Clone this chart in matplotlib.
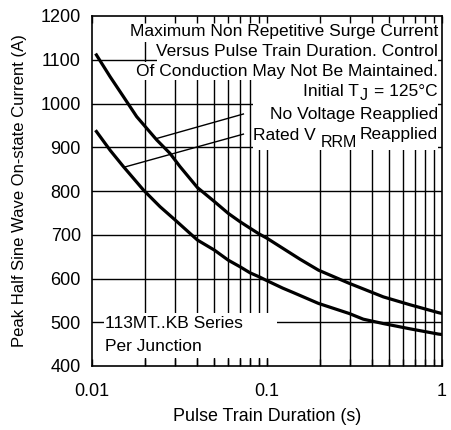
import matplotlib
matplotlib.use("Agg")
import matplotlib.pyplot as plt
from matplotlib.patches import Rectangle

plt.rcParams['font.family'] = ['Liberation Sans', 'DejaVu Sans']

# Data
x_upper = [0.0106, 0.0127, 0.0151, 0.018, 0.0234, 0.0279, 0.0318, 0.04, 0.05, 0.06, 0.07,
           0.08, 0.09, 0.1, 0.1545, 0.197, 0.295, 0.462, 0.656, 0.953, 1.0]
y_upper = [1111, 1061, 1016, 970, 917, 886, 856, 808, 776, 749, 730,
           715, 702, 692, 644, 619, 589, 558, 540, 522, 520]
x_lower = [0.0106, 0.0127, 0.0151, 0.0197, 0.0245, 0.03, 0.04, 0.05, 0.06, 0.07, 0.08,
           0.09, 0.1, 0.123, 0.141, 0.197, 0.295, 0.355, 0.462, 0.656, 0.953, 1.0]
y_lower = [936, 893, 856, 802, 764, 733, 688, 665, 642, 627, 613,
           604, 595, 578, 568, 543, 520, 507, 497, 485, 473, 472]

y_ticks = [400, 500, 600, 700, 800, 900, 1000, 1100, 1200]
x_ticks = [0.01, 0.1, 1]
x_tick_labels = ["0.01", "0.1", "1"]

W, H = 451, 430
fig = plt.figure(figsize=(W/100, H/100), dpi=100)
L, R, T, B = 92, 442, 16, 366
ax = fig.add_axes([L/W, (H-B)/H, (R-L)/W, (B-T)/H])
ax.set_xscale('log')
ax.set_xlim(0.01, 1)
ax.set_ylim(400, 1200)

# grid
minor = [m*d for d in (0.01, 0.1) for m in range(2, 10)]
for xv in minor + [0.1]:
    ax.axvline(xv, color='black', lw=1.0, zorder=1)
for yv in y_ticks[1:-1]:
    ax.axhline(yv, color='black', lw=1.0, zorder=1)

def px2ax(x0, y0, x1, y1):
    return ((x0-L)/(R-L), (B-y1)/(B-T), (x1-x0)/(R-L), (y1-y0)/(B-T))

for rect in [(130, 16, 438, 42), (157, 42, 438, 62), (137, 62, 438, 80),
             (253, 80, 438, 150), (104, 313, 277, 358)]:
    x, y, w, h = px2ax(*rect)
    ax.add_patch(Rectangle((x, y), w, h, transform=ax.transAxes, facecolor='white',
                           edgecolor='none', zorder=1.5))

ax.plot(x_upper, y_upper, color='black', lw=2.3, zorder=3, solid_joinstyle='round')
ax.plot(x_lower, y_lower, color='black', lw=2.3, zorder=3, solid_joinstyle='round')

# annotation leader lines
ax.plot([0.0234, 0.0733], [920, 976], color='black', lw=1.0, zorder=3)
ax.plot([0.01545, 0.0733], [855, 930], color='black', lw=1.0, zorder=3)

fs = 12.5
def ptext(xp, yp, s, ha='right', size=fs):
    ax.text((xp-L)/(R-L), (B-yp)/(B-T), s, transform=ax.transAxes, ha=ha, va='center',
            fontsize=size, zorder=4)

ptext(438, 31.5, "Maximum Non Repetitive Surge Current")
ptext(438, 51.5, "Versus Pulse Train Duration. Control")
ptext(438, 71.5, "Of Conduction May Not Be Maintained.")
ptext(359, 91.5, "Initial T")
ptext(359.5, 96, "J", ha='left', size=11.5)
ptext(438, 91.5, "= 125°C")
ptext(438, 115, "No Voltage Reapplied")
ptext(316, 135, "Rated V")
ptext(320.5, 142.5, "RRM", ha='left', size=11.5)
ptext(438, 135, "Reapplied")
ptext(105, 324, "113MT..KB Series", ha='left')
ptext(105, 346.5, "Per Junction", ha='left')

ax.set_yticks(y_ticks)
ax.set_xticks(x_ticks)
ax.set_xticklabels(x_tick_labels)
ax.xaxis.set_minor_locator(matplotlib.ticker.FixedLocator(minor))
ax.xaxis.set_minor_formatter(matplotlib.ticker.NullFormatter())
ax.tick_params(axis='x', which='both', direction='in', top=True, bottom=True, length=5, width=1.0, labelsize=13, pad=12)
ax.tick_params(axis='y', which='both', length=0, labelsize=13, pad=8)
for s in ax.spines.values():
    s.set_linewidth(1.2)
    s.set_zorder(5)

ax.set_xlabel("Pulse Train Duration (s)", fontsize=12.9, labelpad=6)
ax.set_ylabel("Peak Half Sine Wave On-state Current (A)", fontsize=12, labelpad=10)

fig.savefig("out.png", dpi=100)
